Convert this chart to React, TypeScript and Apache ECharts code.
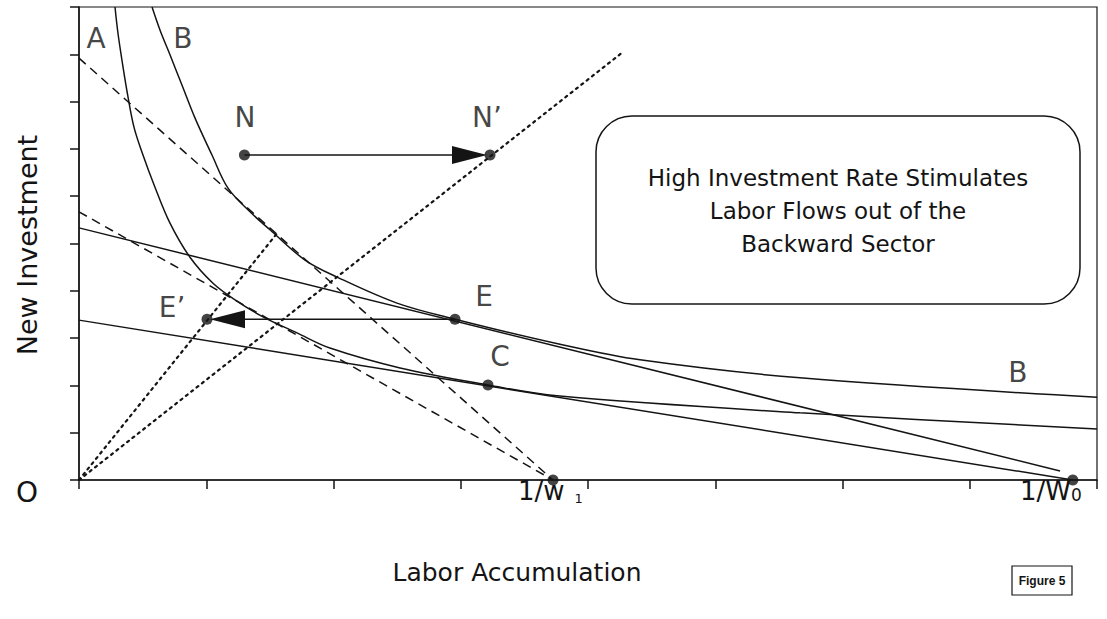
import React, { useEffect, useRef } from "react";
import * as echarts from "echarts";

// ---- data (x: labor accumulation 0..8, y: new investment 0..10) ----
const xMax = 8;
const yMax = 10;

const curveA: number[][] = [
  [0.283, 10.0], [0.306, 9.45], [0.346, 8.73], [0.385, 8.1], [0.432, 7.46],
  [0.495, 6.93], [0.597, 6.19], [0.715, 5.43], [0.872, 4.71], [1.053, 4.16],
  [1.226, 3.81], [1.446, 3.45], [1.713, 3.11], [1.972, 2.79], [2.523, 2.37],
  [3.214, 2.01], [3.756, 1.78], [5.666, 1.42], [8.0, 1.08],
];

const curveB: number[][] = [
  [0.574, 10.0], [0.637, 9.51], [0.715, 8.99], [0.809, 8.35], [0.912, 7.65],
  [1.045, 6.87], [1.171, 6.17], [1.344, 5.67], [1.501, 5.29], [1.776, 4.65],
  [2.028, 4.29], [2.499, 3.74], [2.955, 3.4], [3.78, 2.87], [4.409, 2.54],
  [5.666, 2.16], [8.0, 1.75],
];

const budgetUpper: number[][] = [[0, 5.33], [7.71, 0.19]];
const budgetLower: number[][] = [[0, 3.38], [7.81, 0]];
const dashedSteep: number[][] = [[0, 8.92], [3.725, 0]];
const dashedShallow: number[][] = [[0, 5.67], [3.725, 0]];
const rayE: number[][] = [[0, 0], [1.564, 5.24]];
const rayN: number[][] = [[0, 0], [4.275, 9.05]];

const pointNames = ["N", "N'", "E", "E'", "C", "1/w1", "1/w0"];
const pointX = [1.3, 3.23, 2.955, 1.006, 3.214, 3.725, 7.81];
const pointY = [6.87, 6.87, 3.4, 3.4, 2.01, 0, 0];

// arrows: [fromX, fromY, toX, toY]
const arrows: number[][] = [
  [1.3, 6.87, 3.23, 6.87],
  [2.955, 3.4, 1.006, 3.4],
];

const labelTexts = ["A", "B", "N", "N\u2019", "E", "E\u2019", "C", "B"];
const labelX = [0.134, 0.817, 1.305, 3.206, 3.183, 0.731, 3.308, 7.379];
const labelY = [9.34, 9.34, 7.67, 7.67, 3.87, 3.64, 2.62, 2.28];

const FONT = "'DejaVu Sans', 'Liberation Sans', Arial, sans-serif";
const INK = "#141414";

export default function App() {
  const ref = useRef<HTMLDivElement>(null);

  useEffect(() => {
    if (!ref.current) return;
    const chart = echarts.init(ref.current, undefined, { renderer: "svg" });

    const lineSeries = (data: number[][], type: any, width = 1.5, smooth: any = false) => ({
      type: "line",
      data,
      smooth,
      symbol: "none",
      silent: true,
      lineStyle: { color: INK, width, type },
      z: 2,
    });

    const option: any = {
      animation: false,
      backgroundColor: "#ffffff",
      grid: {
        left: 79,
        right: 10,
        top: 7,
        bottom: 139,
        show: true,
        borderColor: INK,
        borderWidth: 1.2,
      },
      xAxis: {
        type: "value",
        min: 0,
        max: xMax,
        interval: 1,
        axisLine: { show: true, lineStyle: { color: INK, width: 1.5 } },
        axisTick: { show: true, inside: false, length: 9, lineStyle: { color: INK, width: 1.5 } },
        axisLabel: { show: false },
        splitLine: { show: false },
      },
      yAxis: {
        type: "value",
        min: 0,
        max: yMax,
        interval: 1,
        axisLine: { show: true, lineStyle: { color: INK, width: 1.5 } },
        axisTick: { show: true, inside: false, length: 9, lineStyle: { color: INK, width: 1.5 } },
        axisLabel: { show: false },
        splitLine: { show: false },
      },
      series: [
        lineSeries(curveA, "solid", 1.5, 0.35),
        lineSeries(curveB, "solid", 1.5, 0.35),
        lineSeries(budgetUpper, "solid", 1.5),
        lineSeries(budgetLower, "solid", 1.5),
        lineSeries(dashedSteep, [9, 6], 1.5),
        lineSeries(dashedShallow, [9, 6], 1.5),
        { ...lineSeries(rayE, [2.2, 4.6], 2.2), lineStyle: { color: INK, width: 2.2, type: [2.2, 4.6], cap: "round" } },
        { ...lineSeries(rayN, [2.2, 4.6], 2.2), lineStyle: { color: INK, width: 2.2, type: [2.2, 4.6], cap: "round" } },
        {
          type: "custom",
          silent: true,
          z: 3,
          data: arrows,
          renderItem: (params: any, api: any) => {
            const s = api.coord([api.value(0), api.value(1)]);
            const e = api.coord([api.value(2), api.value(3)]);
            const dx = e[0] - s[0];
            const dy = e[1] - s[1];
            const len = Math.hypot(dx, dy);
            const ux = dx / len;
            const uy = dy / len;
            const tip = [e[0] - ux * 3, e[1] - uy * 3];
            const base = [tip[0] - ux * 35, tip[1] - uy * 35];
            const nx = -uy;
            const ny = ux;
            return {
              type: "group",
              children: [
                {
                  type: "line",
                  shape: { x1: s[0], y1: s[1], x2: base[0] + ux * 4, y2: base[1] + uy * 4 },
                  style: { stroke: INK, lineWidth: 1.5 },
                },
                {
                  type: "polygon",
                  shape: {
                    points: [
                      tip,
                      [base[0] + nx * 9, base[1] + ny * 9],
                      [base[0] - nx * 9, base[1] - ny * 9],
                    ],
                  },
                  style: { fill: INK },
                },
              ],
            };
          },
        },
        {
          type: "scatter",
          silent: true,
          z: 4,
          symbol: "circle",
          symbolSize: 11,
          itemStyle: { color: INK },
          data: pointNames.map((n, i) => ({ name: n, value: [pointX[i], pointY[i]] })),
        },
        {
          type: "scatter",
          silent: true,
          z: 5,
          symbolSize: 1,
          itemStyle: { color: "transparent" },
          label: {
            show: true,
            position: "inside",
            formatter: (p: any) => p.name,
            fontFamily: FONT,
            fontSize: 28,
            color: INK,
          },
          data: labelTexts.map((t, i) => ({ name: t, value: [labelX[i], labelY[i]] })),
        },
      ],
      graphic: [
        {
          type: "rect",
          shape: { x: 596, y: 116, width: 484, height: 188, r: 36 },
          style: { fill: "none", stroke: INK, lineWidth: 1.5 },
          silent: true,
        },
        {
          type: "text",
          x: 838,
          y: 211,
          style: {
            text: "High Investment Rate Stimulates\nLabor Flows out of the\nBackward Sector",
            fontFamily: FONT,
            fontSize: 23,
            lineHeight: 33,
            fill: INK,
            align: "center",
            verticalAlign: "middle",
          },
          silent: true,
        },
        {
          type: "text",
          x: 27,
          y: 245,
          rotation: Math.PI / 2,
          style: {
            text: "New Investment",
            fontFamily: FONT,
            fontSize: 27,
            fill: INK,
            align: "center",
            verticalAlign: "middle",
          },
          silent: true,
        },
        {
          type: "text",
          x: 517,
          y: 572,
          style: {
            text: "Labor Accumulation",
            fontFamily: FONT,
            fontSize: 25,
            fill: INK,
            align: "center",
            verticalAlign: "middle",
          },
          silent: true,
        },
        {
          type: "text",
          x: 27,
          y: 492,
          style: {
            text: "O",
            fontFamily: FONT,
            fontSize: 28,
            fill: INK,
            align: "center",
            verticalAlign: "middle",
          },
          silent: true,
        },
        {
          type: "text",
          x: 518,
          y: 491,
          style: {
            text: "{m|1/w}{s|1}",
            fontFamily: FONT,
            fill: INK,
            align: "left",
            verticalAlign: "middle",
            rich: {
              m: { fontFamily: FONT, fontSize: 26, fill: INK, padding: [0, 10, 0, 0] },
              s: { fontFamily: FONT, fontSize: 13, fill: INK, padding: [14, 0, 0, 0] },
            },
          },
          silent: true,
        },
        {
          type: "text",
          x: 1020,
          y: 491,
          style: {
            text: "{m|1/W}{s|0}",
            fontFamily: FONT,
            fill: INK,
            align: "left",
            verticalAlign: "middle",
            rich: {
              m: { fontFamily: FONT, fontSize: 26, fill: INK },
              s: { fontFamily: FONT, fontSize: 17, fill: INK, padding: [8, 0, 0, 0] },
            },
          },
          silent: true,
        },
        {
          type: "rect",
          shape: { x: 1012, y: 566, width: 60, height: 29 },
          style: { fill: "none", stroke: INK, lineWidth: 1.2 },
          silent: true,
        },
        {
          type: "text",
          x: 1042,
          y: 581,
          style: {
            text: "Figure 5",
            fontFamily: "'Liberation Sans Narrow', 'Liberation Sans', Arial, sans-serif",
            fontSize: 12,
            fontWeight: "bold",
            fill: INK,
            align: "center",
            verticalAlign: "middle",
          },
          silent: true,
        },
      ],
    };

    chart.setOption(option);
    return () => chart.dispose();
  }, []);

  return (
    <div
      ref={ref}
      style={{ position: "absolute", left: 0, top: 0, width: 1107, height: 619, background: "#fff" }}
    />
  );
}
